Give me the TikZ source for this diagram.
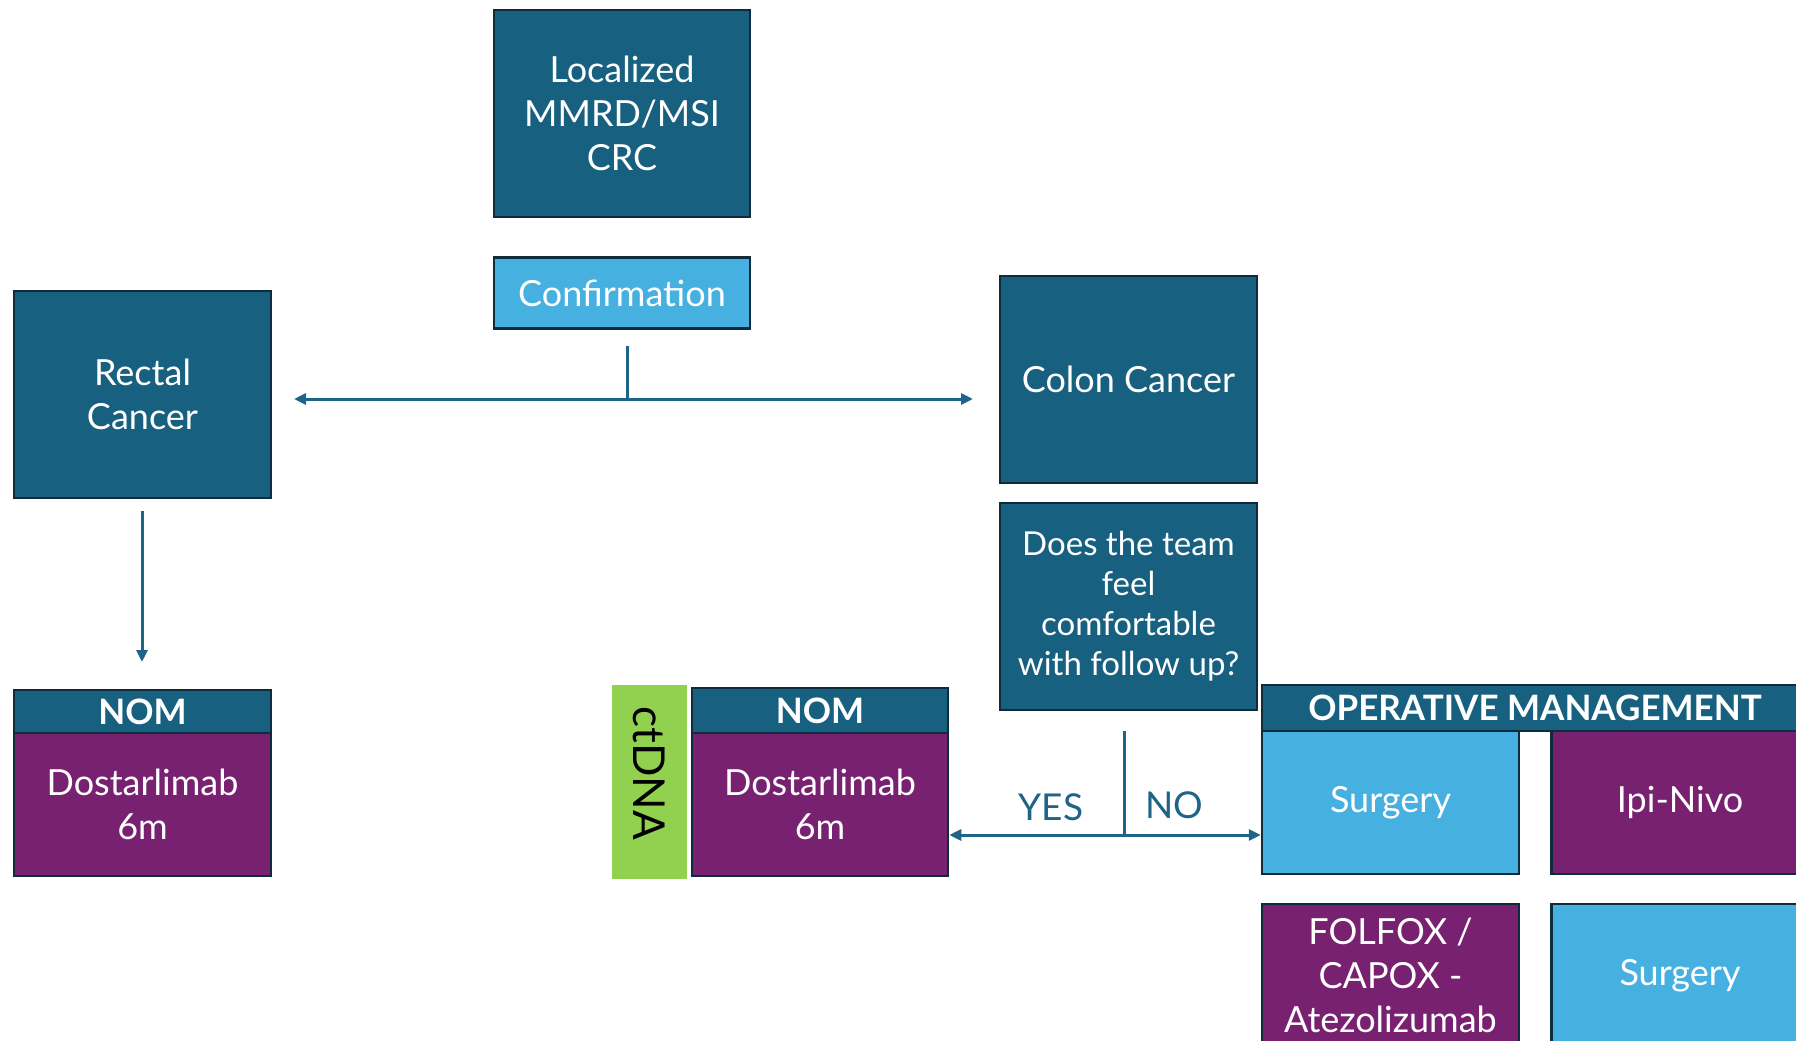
\documentclass[tikz,border=0pt]{standalone}
\usepackage{fontspec}
\setmainfont{Lato}
\usetikzlibrary{arrows.meta}

\definecolor{tealbox}{HTML}{18607F}
\definecolor{bluebox}{HTML}{46B1E1}
\definecolor{purplebox}{HTML}{782170}
\definecolor{greenbox}{HTML}{92D050}
\definecolor{edgecol}{HTML}{0E2C3C}
\definecolor{linecol}{HTML}{1D6488}

\begin{document}
\begin{tikzpicture}[x=1pt,y=-1pt,
    box/.style={draw=edgecol, line width=2.5pt, text=white, align=center, inner sep=0pt,
        font=\fontsize{36}{44}\selectfont},
    darkbox/.style={box, fill=tealbox, minimum width=257pt, minimum height=207pt},
    headbox/.style={box, fill=tealbox, font=\fontsize{35}{40}\selectfont\bfseries},
    drugbox/.style={box, fill=purplebox, minimum width=257pt, minimum height=143pt},
    surgbox/.style={box, fill=bluebox, minimum width=257pt, minimum height=143pt},
    link/.style={draw=linecol, line width=3pt},
    arr/.style={link, -{Triangle[length=12pt,width=11pt]}},
    choice/.style={text=linecol, font=\fontsize{37}{44}\selectfont}]
    \useasboundingbox (0,0) rectangle (1796,1041);
    \clip (0,0) rectangle (1796,1041);
    % top of the tree
    \node[darkbox, minimum width=256pt] (loc) at (622,113.5) {Localized\\MMRD/MSI\\CRC};
    \node[box, fill=bluebox, minimum width=256pt, minimum height=71pt] (conf) at (622,293) {Confirmation};
    \node[darkbox] (rect) at (142.5,394.5) {Rectal\\Cancer};
    \node[darkbox] (colon) at (1128.5,379.5) {Colon Cancer};
    \node[darkbox, font=\fontsize{33}{40}\selectfont] (quest) at (1128.5,606.5) {Does the team\\feel\\comfortable\\with follow up?};
    % rectal branch
    \node[headbox, minimum width=257pt, minimum height=43pt] (nomA) at (142.5,711.5) {NOM};
    \node[drugbox] (dostA) at (142.5,804.5) {Dostarlimab\\6m};
    % colon branch
    \node[fill=greenbox, minimum width=75pt, minimum height=194pt, inner sep=0pt] (ct) at (649.5,782) {};
    \node[rotate=-90, font=\fontsize{44}{50}\selectfont] (ctlab) at (649,773) {ctDNA};
    \node[headbox, minimum width=256pt, minimum height=45pt] (nomB) at (820,710.5) {NOM};
    \node[drugbox, minimum width=256pt] (dostB) at (820,804.5) {Dostarlimab\\6m};
    \node[headbox, minimum width=546pt, minimum height=46pt] (opm) at (1535,708) {OPERATIVE MANAGEMENT};
    \node[surgbox] (surgA) at (1390.5,802.5) {Surgery};
    \node[drugbox] (ipi) at (1680,802.5) {Ipi-Nivo};
    \node[drugbox] (folf) at (1390.5,975.5) {FOLFOX /\\CAPOX -\\Atezolizumab};
    \node[surgbox] (surgB) at (1680,975.5) {Surgery};
    % connectors
    \coordinate (c1) at (627,346);
    \coordinate (j1) at (627,399);
    \coordinate (toRect) at (294,399);
    \coordinate (toColon) at (973,399);
    \draw[link] (c1) -- (j1);
    \draw[arr] (j1) -- (toRect);
    \draw[arr] (j1) -- (toColon);
    \coordinate (r1) at (142,511);
    \coordinate (r2) at (142,662);
    \draw[arr] (r1) -- (r2);
    \coordinate (q1) at (1124,731);
    \coordinate (j2) at (1124,835);
    \draw[link] (q1) -- (j2);
    \draw[arr] (j2) -- (j2 -| dostB.east);
    \draw[arr] (j2) -- (j2 -| surgA.west);
    \node[choice] (yes) at (1051,807) {YES};
    \node[choice] (no) at (1174,805) {NO};
\end{tikzpicture}
\end{document}
